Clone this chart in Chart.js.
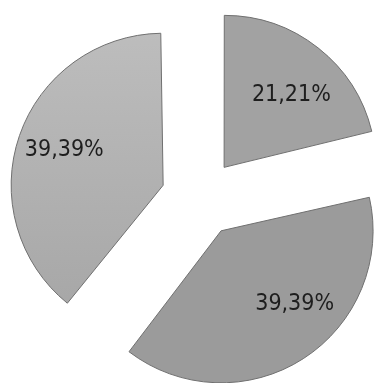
<!DOCTYPE html>
<html lang="pt-br">

<head>
    <meta charset="UTF-8">
    <meta name="viewport" content="width=device-width, initial-scale=1.0">
    <title>Gráfico de pizza</title>
    <script src="https://cdn.jsdelivr.net/npm/chart.js"></script>
    <style>
        html, body { margin: 0; padding: 0; background: #fff; overflow: hidden; }
        #pieChart { display: block; }
    </style>
</head>

<body>
    <canvas id="pieChart" width="375" height="383"></canvas>

    <script>
        // dados
        const categorias = ['A', 'B', 'C'];
        const percentuais = [21.21, 39.39, 39.39];

        const RAIO = 152;
        const AFASTAMENTO = 39; // distância de cada fatia ao centro

        // posição dos rótulos a partir da ponta de cada fatia
        const distRotulo = [99, 104, 105];
        const giroRotulo = [4.6, -12.3, 0.6];

        const ctx = document.getElementById('pieChart').getContext('2d');

        const fatiaEsquerda = ctx.createLinearGradient(0, 30, 0, 310);
        fatiaEsquerda.addColorStop(0, '#bebebe');
        fatiaEsquerda.addColorStop(1, '#a8a8a8');
        const cores = ['#a2a2a2', '#9b9b9b', fatiaEsquerda];

        const formatar = (v) => v.toFixed(2).replace('.', ',') + '%';

        // o Chart.js aumenta o raio das fatias grandes quando há offset; aqui deixa todas iguais
        const raioIgual = {
            id: 'raioIgual',
            beforeDatasetsDraw(chart) {
                chart.getDatasetMeta(0).data.forEach((arc) => {
                    const circ = arc.endAngle - arc.startAngle;
                    const fix = 1 - Math.sin(Math.min(Math.PI, circ));
                    arc.outerRadius = RAIO - AFASTAMENTO * fix;
                });
            }
        };

        const rotulos = {
            id: 'rotulos',
            afterDatasetsDraw(chart) {
                const c = chart.ctx;
                c.save();
                c.font = '23px "Liberation Sans Narrow", "DejaVu Sans Condensed", sans-serif';
                c.fillStyle = '#1e1e1e';
                c.textAlign = 'center';
                c.textBaseline = 'middle';
                chart.getDatasetMeta(0).data.forEach((arc, i) => {
                    const meio = (arc.startAngle + arc.endAngle) / 2;
                    const px = arc.x + Math.cos(meio) * AFASTAMENTO;
                    const py = arc.y + Math.sin(meio) * AFASTAMENTO;
                    const ang = meio + giroRotulo[i] * Math.PI / 180;
                    c.fillText(formatar(percentuais[i]),
                        px + Math.cos(ang) * distRotulo[i],
                        py + Math.sin(ang) * distRotulo[i]);
                });
                c.restore();
            }
        };

        new Chart(ctx, {
            type: 'pie',
            data: {
                labels: categorias,
                datasets: [{
                    data: percentuais,
                    backgroundColor: cores,
                    borderColor: '#707070',
                    borderWidth: 1,
                    offset: AFASTAMENTO * 4
                }]
            },
            options: {
                responsive: false,
                animation: false,
                radius: RAIO,
                layout: { padding: { left: 25, top: 13 } },
                plugins: {
                    legend: { display: false },
                    tooltip: { enabled: false }
                }
            },
            plugins: [raioIgual, rotulos]
        });
    </script>
</body>

</html>
